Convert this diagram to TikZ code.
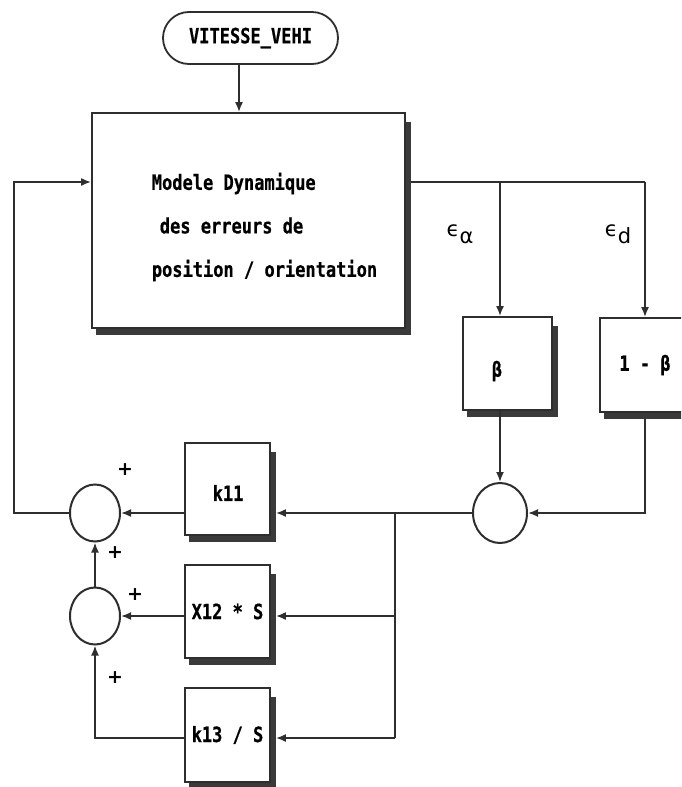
\documentclass[tikz,border=0pt]{standalone}
\usepackage{fontspec}
\usetikzlibrary{arrows.meta,calc,shapes.geometric}
\newfontfamily\diagfont[FakeStretch=0.81,BoldFeatures={FakeBold=0.6}]{DejaVu Sans Mono}
\newfontfamily\grfont{DejaVu Sans}
\definecolor{linec}{HTML}{2E2E2E}
\definecolor{shadc}{HTML}{3A3A3A}
\tikzset{
  blk/.style={draw=linec,line width=1.8pt,fill=white,rectangle,inner sep=0pt},
  sumn/.style={draw=linec,line width=2pt,ellipse,inner sep=0pt},
  wire/.style={draw=linec,line width=1.8pt},
  arr/.style={wire,-{Latex[length=10pt,width=8pt]}},
  lbl/.style={font={\diagfont\bfseries\fontsize{21}{24}\selectfont},text=black},
  plus/.style={font={\grfont\bfseries\fontsize{19}{20}\selectfont},text=black,inner sep=0pt},
  greek/.style={font={\grfont\fontsize{21}{24}\selectfont},text=black,inner sep=0pt}
}
\newcommand\boxshadow[1]{%
  \fill[shadc] ($(#1.north east)+(0,10)$) rectangle ($(#1.south east)+(5,6)$);
  \fill[shadc] ($(#1.south west)+(5,0)$) rectangle ($(#1.south east)+(5,6)$);}
\begin{document}
\begin{tikzpicture}[x=1pt,y=-1pt]
\useasboundingbox (0,0) rectangle (681,787);
\clip (0,0) rectangle (681,787);
\fill[white] (0,0) rectangle (681,787);

% nodes
\node[blk,rounded corners=26pt,minimum width=175pt,minimum height=52pt,lbl] (term) at (250.5,38) {VITESSE\_VEHI};
\node[blk,minimum width=313pt,minimum height=215pt] (model) at (248.5,220.5) {};
\node[lbl,align=left,font={\diagfont\bfseries\fontsize{21}{43.5}\selectfont}] (mtext) at (264.5,227) {Modele Dynamique\\\hspace*{8pt}des erreurs de\\position / orientation};
\node[blk,minimum width=89pt,minimum height=93pt] (beta) at (507.5,363.5) {};
\node[lbl] (betat) at (497,371) {β};
\node[blk,minimum width=90pt,minimum height=94pt,lbl] (omb) at (645,365) {1 - β};
\node[sumn,minimum width=54pt,minimum height=60pt] (sumR) at (500,513) {};
\node[sumn,minimum width=50pt,minimum height=57pt] (sum1) at (95,513) {};
\node[sumn,minimum width=50pt,minimum height=57pt] (sum2) at (95,616) {};
\node[blk,minimum width=85pt,minimum height=92pt] (k11) at (227.5,489) {};
\node[lbl] (k11t) at (228,493) {k11};
\node[blk,minimum width=85pt,minimum height=93pt,lbl] (x12) at (227.5,611.5) {X12 * S};
\node[blk,minimum width=85pt,minimum height=94pt,lbl] (k13) at (227.5,735) {k13 / S};

\boxshadow{model}
\boxshadow{beta}
\boxshadow{omb}
\boxshadow{k11}
\boxshadow{x12}
\boxshadow{k13}

% labels
\node[greek] (ea) at (460,234) {ϵ\raisebox{-7pt}{α}};
\node[greek] (ed) at (618,234) {ϵ\raisebox{-7pt}{d}};
\node[plus] (p1) at (125,470) {+};
\node[plus] (p2) at (115,553) {+};
\node[plus] (p3) at (135,595) {+};
\node[plus] (p4) at (115,678) {+};

% coordinates
\coordinate (tin) at (239,64);
\coordinate (fbl) at (14,182);
\coordinate (sp1) at (500,182);
\coordinate (sp2) at (645,182);
\coordinate (br) at (395,513);
\coordinate (brb) at (395,738);

% connectors
\draw[arr] (tin) -- (tin |- model.north);
\draw[wire] ($(fbl -| model.east)+(5,0)$) -- (sp2);
\draw[arr] (sp1) -- (sp1 |- beta.north);
\draw[arr] (sp2) -- (omb.north);
\draw[arr] (sp1 |- beta.south) -- (sumR.north);
\draw[arr] ($(omb.south)+(0,6)$) |- (sumR.east);
\draw[arr] (sumR.west) -- ($(sumR.west -| k11.east)+(5,0)$);
\draw[arr] (sumR.west -| k11.west) -- (sum1.east);
\draw[wire] (br) -- (brb);
\draw[arr] (br |- sum2.east) -- ($(sum2.east -| x12.east)+(5,0)$);
\draw[arr] (brb) -- ($(brb -| k13.east)+(5,0)$);
\draw[arr] (sum2.east -| x12.west) -- (sum2.east);
\draw[arr] (brb -| k13.west) -| (sum2.south);
\draw[arr] (sum2.north) -- (sum1.south);
\draw[arr] (sum1.west) -| (fbl) -- (fbl -| model.west);
\end{tikzpicture}
\end{document}
